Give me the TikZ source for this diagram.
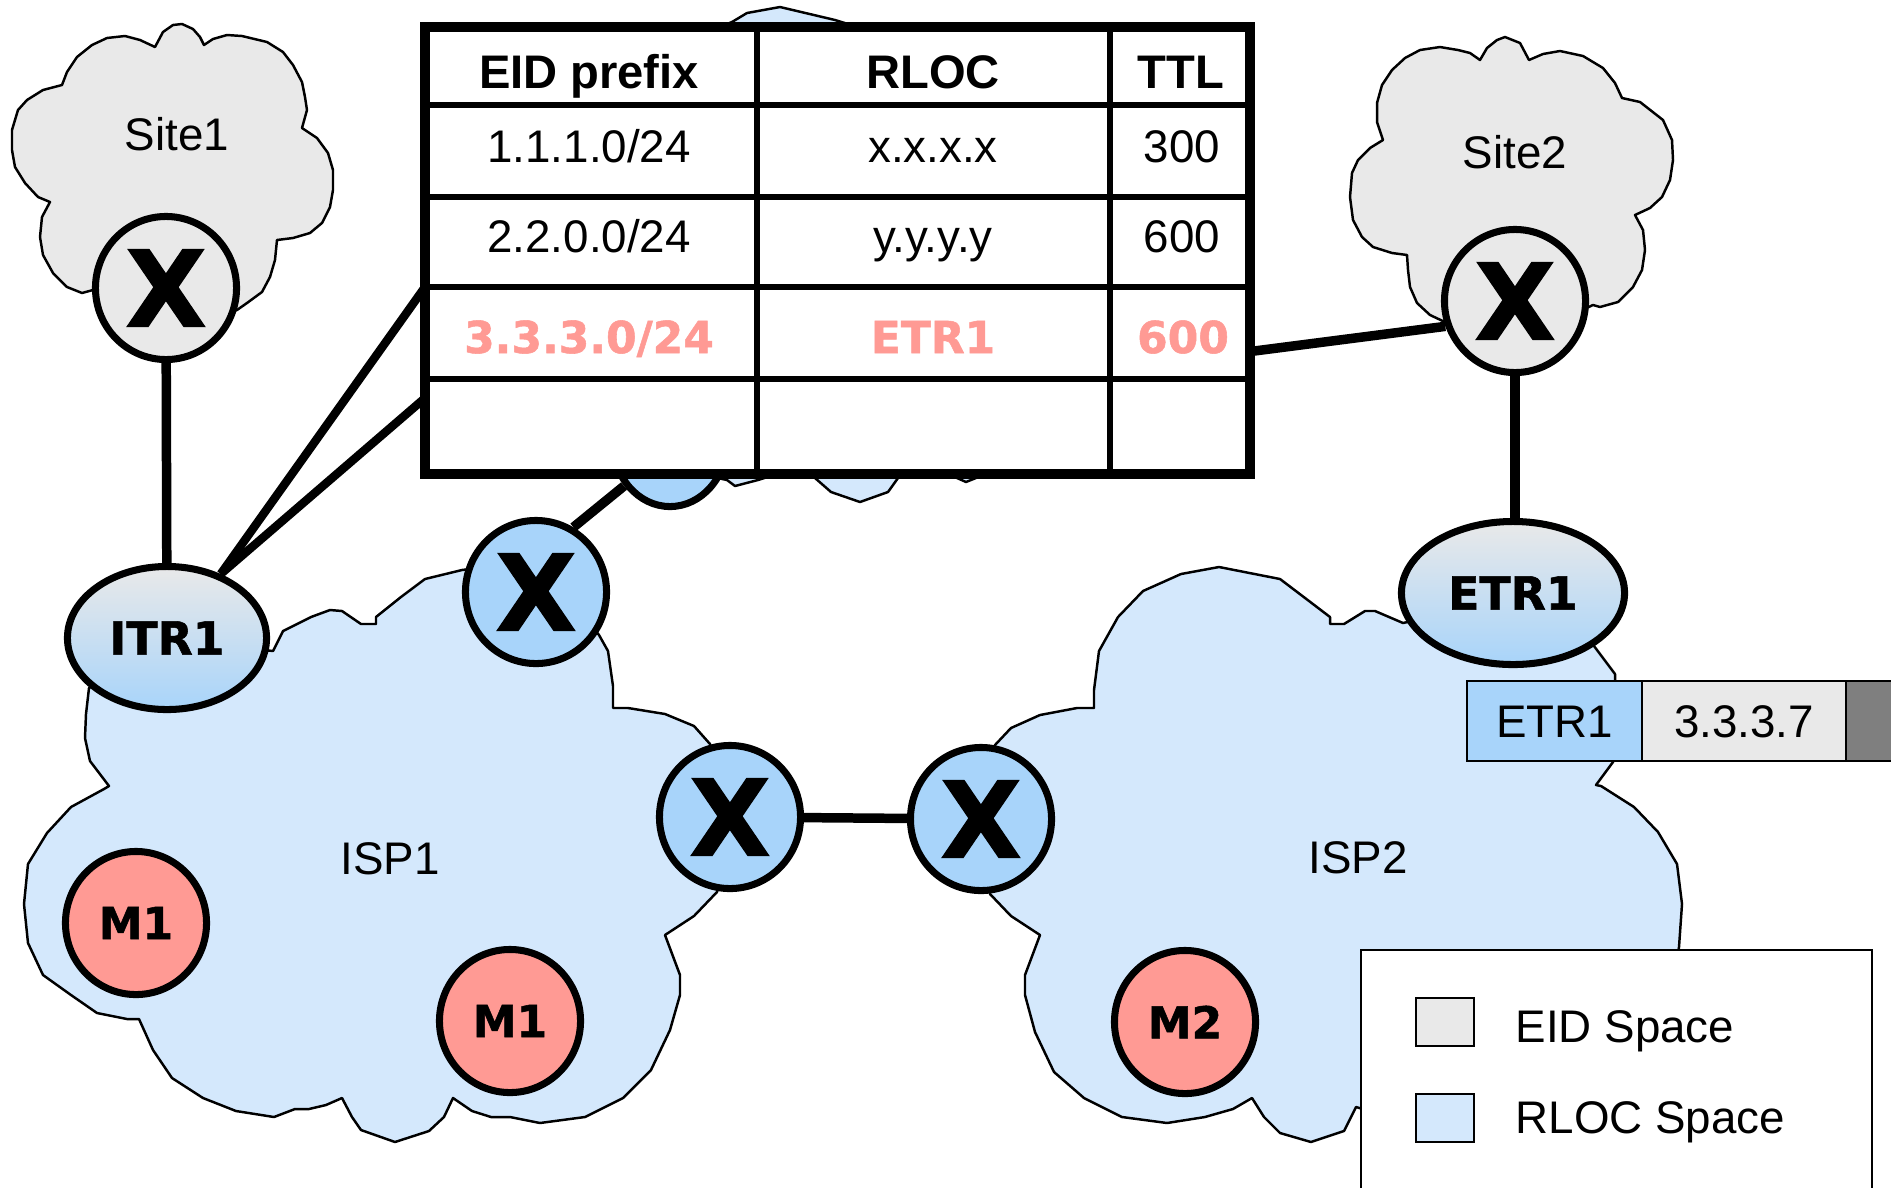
\documentclass[tikz,border=0pt]{standalone}
\usepackage{fontspec}
\setmainfont{Liberation Sans}
\newfontfamily\dejavu{DejaVu Sans Bold}[FakeBold=1.2]
\usetikzlibrary{shapes.geometric}
\usetikzlibrary{positioning}
\definecolor{eidgray}{HTML}{E9E9E9}
\definecolor{rloclight}{HTML}{D4E8FC}
\definecolor{rlocdark}{HTML}{A8D4FA}
\definecolor{hostred}{HTML}{FF9A94}
\definecolor{darkcell}{HTML}{7F7F7F}
\newcommand{\bigxfont}{\dejavu\fontsize{30}{30}\selectfont}
\newcommand{\tagfont}{\dejavu\fontsize{13}{15}\selectfont}
\newcommand{\hostfont}{\dejavu\fontsize{12.5}{14}\selectfont}
\newcommand{\hitfont}{\dejavu\fontsize{12.5}{15}\selectfont}
\newcommand{\plainfont}{\fontsize{13}{15}\selectfont}
\newcommand{\headfont}{\bfseries\fontsize{13.4}{16}\selectfont}

\begin{document}
\begin{tikzpicture}[x=0.01cm, y=-0.01cm,
	cloudy/.style={draw, line width=0.7pt, line join=round},
	rtr/.style={draw, ellipse, line width=2pt, inner sep=0pt,
	minimum width=1.41cm, minimum height=1.43cm, font=\bigxfont},
	xtr/.style={draw, ellipse, line width=2pt, inner sep=0pt,
	minimum height=1.43cm, top color=eidgray, bottom color=rlocdark, font=\tagfont},
	host/.style={rtr, fill=hostred, font=\hostfont},
	link/.style={line width=2.7pt},
	callout/.style={line width=2.4pt},
	lbl/.style={anchor=base, inner sep=0pt, font=\plainfont},
	hdr/.style={anchor=base, inner sep=0pt, font=\headfont},
	hit/.style={anchor=base, inner sep=0pt, font=\hitfont, text=hostred},
	grid/.style={line width=1.6pt},
	barcell/.style={draw, line width=0.6pt, inner sep=0pt, outer sep=0pt,
	minimum height=0.8cm, font=\plainfont, text height=9.3pt, text depth=0pt},
	keybox/.style={draw, line width=0.6pt, minimum width=0.58cm, minimum height=0.48cm}]

\useasboundingbox (0,0) rectangle (1891,1187);

% clouds
\draw[cloudy, fill=rloclight] (732,22) -- (747,13) -- (780,7) -- (835,20) -- (900,40)
	-- (970,120) -- (995,300) -- (985,440) -- (976,478) -- (966,482) -- (957,478)
	-- (930,470) -- (898,478) -- (888,492) -- (860,502) -- (831,492) -- (815,478)
	-- (790,470) -- (758,480) -- (735,486) -- (727,480) -- (680,470) -- (620,420)
	-- (610,250) -- (640,90) -- (700,35) -- cycle;
\draw[cloudy, fill=eidgray] (163,32) -- (173,25) -- (182,24) -- (193,29) -- (200,37)
	-- (204,45) -- (213,39) -- (227,35) -- (242,36) -- (267,42) -- (283,52) -- (293,65)
	-- (302,82) -- (305,97) -- (307,110) -- (302,128) -- (317,138) -- (328,153)
	-- (333,170) -- (333,190) -- (330,207) -- (322,223) -- (310,233) -- (293,238)
	-- (277,240) -- (275,260) -- (270,277) -- (262,292) -- (247,303) -- (237,310)
	-- (166,330) -- (93,290) -- (82,293) -- (67,287) -- (53,273) -- (43,255)
	-- (40,237) -- (42,217) -- (50,202) -- (38,197) -- (25,183) -- (15,167)
	-- (12,150) -- (12,130) -- (18,110) -- (27,100) -- (43,90) -- (62,85) -- (67,72)
	-- (77,57) -- (92,45) -- (107,38) -- (125,36) -- (140,40) -- (155,47) -- cycle;
\draw[cloudy, fill=eidgray] (1480,60) -- (1487,48) -- (1497,40) -- (1505,37)
	-- (1520,43) -- (1529,60) -- (1543,54) -- (1560,51) -- (1583,56) -- (1603,68)
	-- (1615,83) -- (1622,98) -- (1640,102) -- (1663,120) -- (1672,140) -- (1673,160)
	-- (1670,180) -- (1662,197) -- (1650,208) -- (1635,215) -- (1643,230) -- (1645,250)
	-- (1642,270) -- (1633,287) -- (1618,302) -- (1600,307) -- (1593,305) -- (1518,340)
	-- (1447,323) -- (1430,315) -- (1417,303) -- (1410,287) -- (1408,270) -- (1407,255)
	-- (1392,253) -- (1373,247) -- (1362,237) -- (1353,220) -- (1350,197) -- (1352,173)
	-- (1358,160) -- (1370,148) -- (1383,140) -- (1377,122) -- (1377,103) -- (1382,85)
	-- (1392,70) -- (1405,58) -- (1420,50) -- (1440,47) -- (1458,50) -- (1470,53) -- cycle;
\draw[cloudy, fill=rloclight] (273,651) -- (283,631) -- (311,617) -- (330,610)
	-- (342,611) -- (361,624) -- (376,624) -- (376,617) -- (401,597) -- (425,579)
	-- (462,570) -- (536,560) -- (599,635) -- (608,651) -- (613,686) -- (613,708)
	-- (628,708) -- (665,714) -- (694,726) -- (710,744) -- (740,817) -- (717,892)
	-- (694,916) -- (665,935) -- (680,975) -- (680,995) -- (670,1030) -- (651,1070)
	-- (623,1098) -- (585,1117) -- (540,1123) -- (510,1117) -- (491,1117) -- (472,1111)
	-- (453,1098) -- (444,1117) -- (429,1131) -- (395,1142) -- (361,1130) -- (352,1117)
	-- (342,1098) -- (326,1105) -- (309,1109) -- (295,1109) -- (274,1117) -- (236,1111)
	-- (203,1098) -- (172,1078) -- (153,1050) -- (139,1019) -- (127,1019) -- (97,1013)
	-- (71,995) -- (43,975) -- (28,943) -- (24,904) -- (28,864) -- (47,833) -- (71,807)
	-- (104,789) -- (109,786) -- (90,761) -- (85,738) -- (86,714) -- (89,688)
	-- (167,640) -- cycle;
\draw[cloudy, fill=rloclight] (995,745) -- (1011,728) -- (1040,715) -- (1077,708)
	-- (1094,708) -- (1094,690) -- (1099,651) -- (1118,617) -- (1143,591) -- (1181,574)
	-- (1219,567) -- (1280,579) -- (1309,601) -- (1330,617) -- (1330,624) -- (1344,624)
	-- (1365,611) -- (1375,611) -- (1403,623) -- (1510,600) -- (1594,646) -- (1615,674)
	-- (1615,720) -- (1613,762) -- (1596,785) -- (1601,786) -- (1634,807) -- (1658,832)
	-- (1677,864) -- (1682,904) -- (1679,947) -- (1670,1000) -- (1640,1060)
	-- (1590,1100) -- (1530,1125) -- (1450,1135) -- (1400,1120) -- (1356,1107)
	-- (1344,1131) -- (1311,1142) -- (1280,1133) -- (1264,1117) -- (1252,1098)
	-- (1233,1109) -- (1205,1117) -- (1167,1123) -- (1122,1117) -- (1084,1098)
	-- (1054,1072) -- (1035,1032) -- (1025,995) -- (1025,975) -- (1040,935)
	-- (1011,916) -- (990,894) -- (981,820) -- cycle;

\node[lbl] (site1) at (177,150) {Site1};
\node[lbl] (site2) at (1515,168) {Site2};
\node[lbl] (isp1) at (390,874) {ISP1};
\node[lbl] (isp2) at (1358,873) {ISP2};

\node[rtr, fill=eidgray] (s1x) at (166,288) {X};
\node[rtr, fill=eidgray] (s2x) at (1515,301) {X};
\node[rtr, fill=rlocdark] (x1) at (536,592) {X};
\node[rtr, fill=rlocdark] (x2) at (730,817) {X};
\node[rtr, fill=rlocdark] (x3) at (981,819) {X};
\node[rtr, fill=rlocdark, minimum width=1.15cm, minimum height=1.33cm] (xmid) at (670,440) {};
\node[xtr, minimum width=1.99cm] (itr) at (167,638) {ITR1};
\node[xtr, minimum width=2.23cm] (etr) at (1513,593) {ETR1};
\node[host] (m1a) at (136,923) {M1};
\node[host] (m1b) at (510,1021) {M1};
\node[host] (m2) at (1185,1022) {M2};

\draw[link] (s1x) to (itr);
\draw[link] (s2x.south) to (s2x.south |- etr.north);
\draw[link] (x2) to (x3);
\draw[link] (x1.60) to (xmid.225);
\draw[link] (xmid.20) to (s2x.200);

\coordinate (c1) at (425,287);
\coordinate (c2) at (425,398);
\draw[callout] (itr.50) to (c1);
\draw[callout] (itr.50) to (c2);

% map cache
\draw[fill=white, line width=2.85pt] (425,27) rectangle (1250,474);
\foreach \y in {105,197,287,379}
	\draw[grid] (425,\y) -- (1250,\y);
\foreach \x in {757,1110}
	\draw[grid] (\x,27) -- (\x,474);
\node[hdr] (h1) at (589,88) {EID prefix};
\node[hdr] (h2) at (933,88) {RLOC};
\node[hdr] (h3) at (1181,88) {TTL};
\node[lbl] (p1) at (589,162) {1.1.1.0/24};
\node[lbl] (r1) at (933,162) {x.x.x.x};
\node[lbl] (t1) at (1182,162) {300};
\node[lbl] (p2) at (589,252) {2.2.0.0/24};
\node[lbl] (r2) at (933,252) {y.y.y.y};
\node[lbl] (t2) at (1182,252) {600};
\node[hit] (p3) at (589,353) {3.3.3.0/24};
\node[hit] (r3) at (933,353) {ETR1};
\node[hit] (t3) at (1183,353) {600};

% packet header
\node[barcell, fill=rlocdark, minimum width=1.75cm] (b1) at (1554.5,721) {ETR1};
\node[barcell, fill=eidgray, minimum width=2.04cm, right=0pt of b1] (b2) {3.3.3.7};
\node[barcell, fill=darkcell, minimum width=0.6cm, right=0pt of b2] (b3) {};

% legend
\draw[fill=white, line width=0.6pt] (1361,950) rectangle (1872,1215);
\node[keybox, fill=eidgray] (eidkey) at (1445,1022) {};
\node[keybox, fill=rloclight] (rlockey) at (1445,1118) {};
\node[lbl, anchor=base west] (eidtxt) at (1515,1042) {EID Space};
\node[lbl, anchor=base west] (rloctxt) at (1515,1133) {RLOC Space};
\end{tikzpicture}
\end{document}
